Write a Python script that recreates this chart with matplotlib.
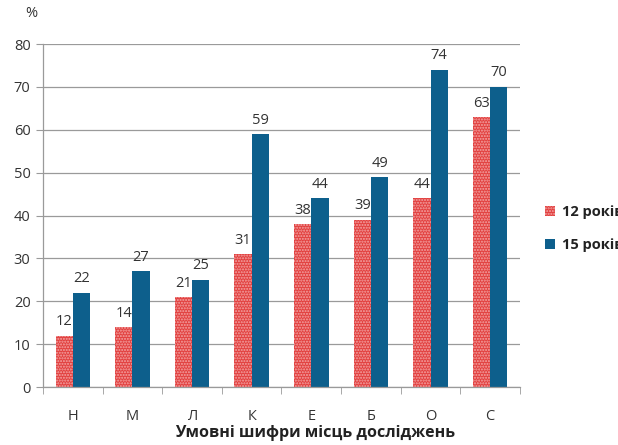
import matplotlib.pyplot as plt
import numpy as np

categories = ['Н', 'М', 'Л', 'К', 'Е', 'Б', 'О', 'С']
years12 = [12, 14, 21, 31, 38, 39, 44, 63]
years15 = [22, 27, 25, 59, 44, 49, 74, 70]
series_names = ['12 років', '15 років']

plt.rcParams['font.family'] = ['Open Sans', 'DejaVu Sans']
plt.rcParams['hatch.linewidth'] = 1.0

red = '#e2403f'
blue = '#0d5f8c'
grey = '#9a9a9a'
txt = '#333333'

fig = plt.figure(figsize=(6.18, 4.45), dpi=100)
ax = fig.add_axes([0.0696, 0.1303, 0.7718, 0.7707])

x = np.arange(len(categories))
w = 0.29
b1 = ax.bar(x - w / 2, years12, w, color=red, edgecolor='#f3a7a7', hatch='......', linewidth=0, label=series_names[0])
b2 = ax.bar(x + w / 2, years15, w, color=blue, linewidth=0, label=series_names[1])

for rect, v in zip(b1, years12):
    ax.text(rect.get_x() + rect.get_width() / 2, v + 1.5, str(v), ha='center', va='bottom', fontsize=10.5, color=txt)
for rect, v in zip(b2, years15):
    ax.text(rect.get_x() + rect.get_width() / 2, v + 1.5, str(v), ha='center', va='bottom', fontsize=10.5, color=txt)

ax.set_xlim(-0.5, len(categories) - 0.5)
ax.set_ylim(0, 80)
ax.set_yticks(range(0, 81, 10))
ax.yaxis.grid(True, color=grey, linewidth=0.9)
ax.set_axisbelow(True)
ax.tick_params(axis='y', length=5, color=grey, labelsize=10.5, labelcolor=txt, pad=4)
ax.set_xticks(x)
ax.set_xticklabels(categories)
ax.set_xticks(np.arange(-0.5, len(categories)), minor=True)
ax.tick_params(axis='x', which='major', length=0, labelsize=10.5, labelcolor=txt, pad=16)
ax.tick_params(axis='x', which='minor', length=5, color=grey)
for s in ['top', 'right']:
    ax.spines[s].set_visible(False)
for s in ['left', 'bottom']:
    ax.spines[s].set_color(grey)
    ax.spines[s].set_linewidth(0.9)

fig.text(0.051, 0.97, '%', ha='center', va='center', fontsize=10.5, color=txt)
fig.text(0.51, 0.028, 'Умовні шифри місць досліджень', ha='center', va='center', fontsize=11.5, fontweight='bold', color='#222222')

leg = fig.legend(handles=[b1, b2], loc='upper left', bbox_to_anchor=(0.872, 0.552), frameon=False,
                 fontsize=10.5, handlelength=0.7, handleheight=0.7, handletextpad=0.5, labelspacing=1.3,
                 borderaxespad=0)
for t in leg.get_texts():
    t.set_fontweight('bold')
    t.set_color('#222222')

fig.savefig('out.png', dpi=100)
